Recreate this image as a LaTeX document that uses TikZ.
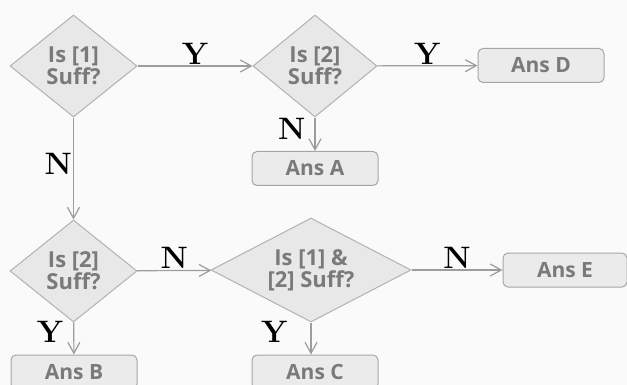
\documentclass[tikz,border=0pt]{standalone}
\usepackage{fontspec}
\newfontfamily\boxfont{Open Sans}
\usetikzlibrary{shapes.geometric,arrows.meta}
\definecolor{shapefill}{HTML}{E8E8E8}
\definecolor{shapeline}{HTML}{B2B2B2}
\definecolor{boxfill}{HTML}{EBEBEB}
\definecolor{boxline}{HTML}{A6A6A6}
\definecolor{textgray}{HTML}{7A7A7A}
\definecolor{linegray}{HTML}{9C9C9C}
\definecolor{backgray}{HTML}{FAFAFA}
\begin{document}
\begin{tikzpicture}[x=1pt, y=-1pt,
    test/.style={diamond, draw=shapeline, fill=shapefill, line width=1pt, inner sep=0pt,
        align=center, text=textgray, font=\boxfont\bfseries\fontsize{22}{22}\selectfont},
    answer/.style={rectangle, rounded corners=5pt, draw=boxline, fill=boxfill, line width=1pt,
        minimum width=126pt, minimum height=34pt, text=textgray,
        font=\boxfont\bfseries\fontsize{21}{22}\selectfont},
    flow/.style={draw=linegray, line width=1.2pt, -{Straight Barb[length=11pt,width=12pt]}},
    tag/.style={font=\bfseries\fontsize{31}{32}\selectfont, inner sep=1pt}]
    \fill[backgray] (0,0) rectangle (627,385);
    \useasboundingbox (0,0) rectangle (627,385);
    % decisions
    \node[test, minimum width=127pt, minimum height=102pt] (q1) at (73.5,66) {Is [1]\\Suff?};
    \node[test, minimum width=124pt, minimum height=102pt] (q2) at (315,66) {Is [2]\\Suff?};
    \node[test, minimum width=127pt, minimum height=102pt] (q3) at (73.5,271) {Is [2]\\Suff?};
    \node[test, aspect=2, minimum width=200pt, minimum height=104pt] (q4) at (311,270) {Is [1] \&\\{[2]} Suff?};
    % answers
    \node[answer] (ansD) at (541,65.5) {Ans D};
    \node[answer] (ansA) at (315,168.5) {Ans A};
    \node[answer, minimum width=124pt] (ansE) at (565,270) {Ans E};
    \node[answer] (ansB) at (74,372) {Ans B};
    \node[answer] (ansC) at (315,372) {Ans C};
    % connectors
    \draw[flow] (q1) -- node[tag, above] {Y} (q2);
    \draw[flow] (q2) -- node[tag, above] {Y} (ansD);
    \draw[flow] (q2) -- node[tag, left, pos=0.35, xshift=-8pt] {N} (ansA);
    \draw[flow] (q1) -- node[tag, left, pos=0.45] {N} (q3);
    \draw[flow] (q3) -- node[tag, above] {N} (q4);
    \draw[flow] (q4) -- node[tag, above] {N} (ansE);
    \draw[flow] (q3) -- node[tag, left, pos=0.3, xshift=-9pt] {Y} (ansB);
    \draw[flow] (q4.south) -- node[tag, left, pos=0.3, xshift=-22pt] {Y} (q4.south |- ansC.north);
\end{tikzpicture}
\end{document}
